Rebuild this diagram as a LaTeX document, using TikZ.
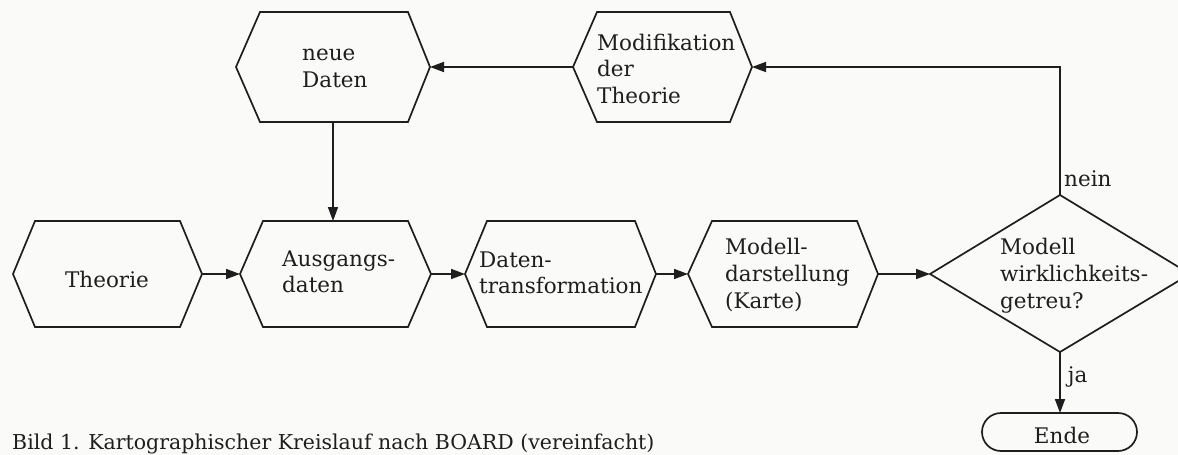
\documentclass[tikz,border=0pt]{standalone}
\usepackage{fontspec}
\setmainfont{DejaVu Serif}
\usetikzlibrary{arrows.meta}
\definecolor{ink}{RGB}{30,30,30}
\definecolor{bg}{RGB}{250,250,248}
\newcommand\txtlines[1]{\begin{tabular}[t]{@{}l@{}}#1\end{tabular}}
\newcommand\hexbox[7]{% name, xl, xtl, xtr, xr, ytop, ybot ; mid computed
  \path[shapeline] (#2,{(#6+#7)/2}) -- (#3,#6) -- (#4,#6) -- (#5,{(#6+#7)/2}) -- (#4,#7) -- (#3,#7) -- cycle;
  \coordinate (#1-l) at (#2,{(#6+#7)/2});
  \coordinate (#1-r) at (#5,{(#6+#7)/2});
}
\tikzset{
  shapeline/.style={draw=ink, line width=1.7pt, line join=miter},
  conn/.style={draw=ink, line width=1.7pt},
  arr/.style={conn, -{Triangle[length=14pt,width=10pt]}},
  lbl/.style={inner sep=0pt, text=ink, font=\fontsize{21.5}{27}\selectfont},
}
\begin{document}
\begin{tikzpicture}[x=1pt,y=-1pt]
\fill[bg] (0,0) rectangle (1178,455);
\useasboundingbox (0,0) rectangle (1178,455);

% hexagons
\hexbox{theo}{13}{35}{180}{202}{221}{327}
\hexbox{ausg}{240}{263}{408}{431}{221}{327}
\hexbox{dat}{465}{487}{635}{656}{221}{327}
\hexbox{mod}{688}{712}{857}{878}{221}{327}
\hexbox{neue}{236}{260}{408}{430}{12}{122}
\hexbox{modif}{573}{597}{730}{752}{12}{122}
\coordinate (neue-b) at (333,122);
\coordinate (ausg-t) at (333,221);

% decision diamond (cut by the right edge)
\begin{scope}
\clip (0,0) rectangle (1178,455);
\path[shapeline] (930,274) -- (1060,195) -- (1190,274) -- (1060,352) -- cycle;
\end{scope}
\coordinate (dia-l) at (930,274);
\coordinate (dia-t) at (1060,195);
\coordinate (dia-b) at (1060,352);

% end terminal
\path[shapeline, rounded corners=19pt] (982,413) rectangle (1137,451);
\coordinate (ende-t) at (1060,413);
\coordinate (corner) at (1060,67);

% texts
\node[lbl, anchor=base] (ttheo) at (107,287) {Theorie};
\node[lbl, anchor=base west, font=\fontsize{21.5}{26}\selectfont] (tausg) at (282,266) {\txtlines{Ausgangs-\\daten}};
\node[lbl, anchor=base west, font=\fontsize{21.5}{26}\selectfont] (tdat) at (479,267) {\txtlines{Daten-\\transformation}};
\node[lbl, anchor=base west] (tmod) at (725,254) {\txtlines{Modell-\\darstellung\\(Karte)}};
\node[lbl, anchor=base west] (tdia) at (1000,254) {\txtlines{Modell\\wirklichkeits-\\getreu?}};
\node[lbl, anchor=base west] (tneue) at (302,60) {\txtlines{neue\\Daten}};
\node[lbl, anchor=base west, font=\fontsize{21.5}{26.5}\selectfont] (tmodif) at (597,50) {\txtlines{Modifikation\\der\\Theorie}};
\node[lbl, anchor=base] (tende) at (1062,443) {Ende};
\node[lbl, anchor=base west] (tnein) at (1064,186) {nein};
\node[lbl, anchor=base west, font=\fontsize{20.5}{25}\selectfont] (caption) at (12,449) {Bild 1. Kartographischer Kreislauf nach BOARD (vereinfacht)};

% connectors
\draw[arr] (theo-r) -- (ausg-l);
\draw[arr] (ausg-r) -- (dat-l);
\draw[arr] (dat-r) -- (mod-l);
\draw[arr] (mod-r) -- (dia-l);
\draw[arr] (dia-b) -- (ende-t) node[lbl, pos=0.5, anchor=base west, xshift=7pt] (tja) {ja};
\draw[arr] (dia-t) -- (corner) -- (modif-r);
\draw[arr] (modif-l) -- (neue-r);
\draw[arr] (neue-b) -- (ausg-t);
\end{tikzpicture}
\end{document}
